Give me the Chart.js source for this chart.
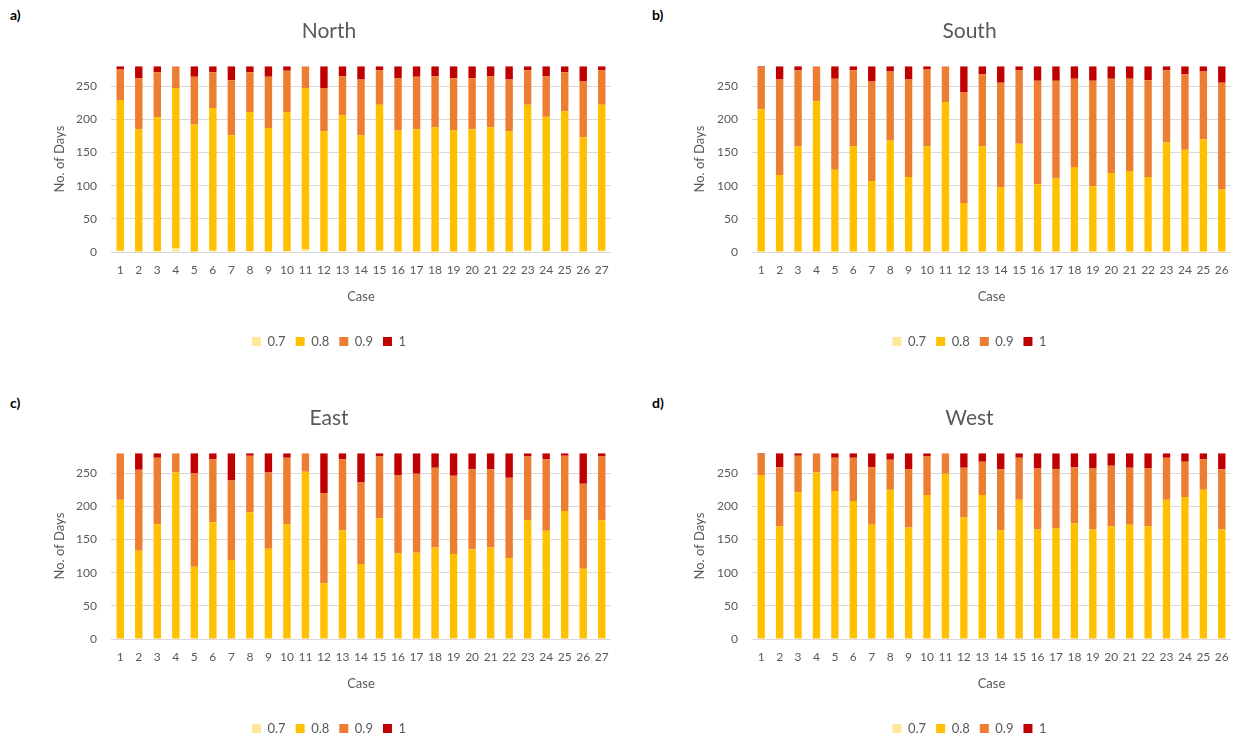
<!DOCTYPE html>
<html>
<head>
<meta charset="utf-8">
<script src="https://cdn.jsdelivr.net/npm/chart.js@4.4.0/dist/chart.umd.min.js"></script>
<style>
  html, body { margin: 0; padding: 0; background: #ffffff; overflow: hidden; }
  body { width: 1245px; height: 739px; position: relative; font-family: Lato, "Open Sans", sans-serif; }
  .panel { position: absolute; }
  .tag { position: absolute; font-weight: bold; font-size: 14px; color: #000; font-family: Lato, "Open Sans", sans-serif; }
</style>
</head>
<body>
<div class="tag" style="left:10px;top:6px;">a)</div>
<div class="tag" style="left:652px;top:6px;">b)</div>
<div class="tag" style="left:10px;top:394px;">c)</div>
<div class="tag" style="left:652px;top:394px;">d)</div>

<div class="panel" style="left:40px;top:10px;width:580px;height:348px;"><canvas id="north"></canvas></div>
<div class="panel" style="left:690px;top:10px;width:555px;height:348px;"><canvas id="south"></canvas></div>
<div class="panel" style="left:40px;top:397px;width:580px;height:348px;"><canvas id="east"></canvas></div>
<div class="panel" style="left:690px;top:397px;width:555px;height:348px;"><canvas id="west"></canvas></div>

<script>
// Case numbers along the x axis
const cases27 = ['1','2','3','4','5','6','7','8','9','10','11','12','13','14','15','16','17','18','19','20','21','22','23','24','25','26','27'];
const cases26 = ['1','2','3','4','5','6','7','8','9','10','11','12','13','14','15','16','17','18','19','20','21','22','23','24','25','26'];

// Series names (threshold levels)
const levels = ['0.7', '0.8', '0.9', '1'];
const levelColors = ['#FFE699', '#FFC000', '#ED7D31', '#C00000'];

// North: number of days per level
const north07 = [2,0,1,6,0,2,0,1,0,1,4,0,1,0,2,0,0,0,0,0,0,0,2,1,1,0,2];
const north08 = [227,185,202,241,192,215,176,210,187,210,243,182,205,176,220,183,185,188,183,185,188,182,220,203,211,173,220];
const north09 = [46,77,68,33,72,54,83,60,77,62,33,65,59,84,52,79,79,77,79,77,77,78,52,61,59,84,52];
const north1  = [5,18,9,0,16,9,21,9,16,7,0,33,15,20,6,18,16,15,18,18,15,20,6,15,9,23,6];

// South
const south07 = [0,0,0,0,0,0,0,0,0,0,0,0,0,0,0,0,0,0,0,0,0,0,0,0,0,0];
const south08 = [215,116,159,227,124,159,107,168,113,159,226,74,159,98,163,102,111,128,99,119,122,113,165,154,170,94];
const south09 = [63,144,115,53,137,115,150,104,147,116,54,167,109,157,111,156,147,133,159,142,139,146,109,114,102,161];
const south1  = [2,20,6,0,19,6,23,8,20,5,0,39,12,25,6,22,22,19,22,19,19,21,6,12,8,25];

// East
const east07 = [0,0,0,0,0,0,0,0,0,0,0,0,0,0,0,0,0,0,0,0,0,0,0,0,0,0,0];
const east08 = [210,133,173,251,109,176,119,191,136,173,252,84,164,113,182,129,130,138,128,135,138,122,179,163,193,106,179];
const east09 = [70,122,100,29,141,95,120,85,115,100,28,136,107,123,93,118,119,120,118,121,118,121,96,108,83,128,96];
const east1  = [0,25,7,0,30,9,41,4,29,7,0,60,9,44,5,33,31,22,34,24,24,37,5,9,4,46,5];

// West
const west07 = [0,0,0,0,0,0,0,0,0,0,0,0,0,0,0,0,0,0,0,0,0,0,0,0,0,0];
const west08 = [247,170,221,251,223,208,172,225,168,217,249,183,217,164,210,165,167,174,165,170,172,170,210,214,225,165];
const west09 = [31,89,55,29,50,65,87,45,88,58,31,75,50,92,63,92,89,85,92,91,86,87,63,53,46,91];
const west1  = [2,21,4,0,7,7,21,10,24,5,0,22,13,24,7,23,24,21,23,19,22,23,7,13,9,24];

// Shared axis settings
const yMax = 280;
const yStep = 50;

const textColor = '#595959';
const gridColor = '#D9D9D9';
const fontFamily = 'Lato, "Open Sans", sans-serif';

function makeChart(id, title, labels, series, layout) {
  const datasets = series.map((vals, i) => ({
    label: levels[i],
    data: vals,
    backgroundColor: levelColors[i],
    borderWidth: 0,
    categoryPercentage: 1.0,
    barPercentage: 0.4
  }));
  return new Chart(document.getElementById(id), {
    type: 'bar',
    data: { labels: labels, datasets: datasets },
    options: {
      responsive: true,
      maintainAspectRatio: false,
      animation: false,
      layout: { padding: { left: layout.leftPad, right: layout.rightPad, top: 0, bottom: 0 } },
      plugins: {
        title: {
          display: true,
          text: title,
          color: textColor,
          font: { family: fontFamily, size: 21, weight: 'normal' },
          padding: { top: 9, bottom: 22 }
        },
        legend: {
          position: 'bottom',
          labels: {
            color: textColor,
            font: { family: fontFamily, size: 13 },
            boxWidth: 9,
            boxHeight: 9,
            padding: 10
          }
        },
        tooltip: { enabled: false }
      },
      scales: {
        x: {
          stacked: true,
          grid: { display: false, drawTicks: false },
          border: { display: false },
          afterFit: (scale) => { scale.height = 73; },
          ticks: { color: textColor, font: { family: fontFamily, size: 12 }, padding: 11, autoSkip: false, maxRotation: 0 },
          title: { display: true, text: 'Case', color: textColor, font: { family: fontFamily, size: 13 }, padding: { top: 0, bottom: 20 } }
        },
        y: {
          stacked: true,
          min: 0,
          max: yMax,
          grid: { color: gridColor, lineWidth: 1, drawTicks: false },
          border: { display: false },
          afterFit: (scale) => { scale.width = layout.yWidth; },
          afterBuildTicks: (scale) => { scale.ticks = scale.ticks.filter(t => t.value % yStep === 0); },
          ticks: { stepSize: yStep, color: textColor, font: { family: fontFamily, size: 12 }, padding: 14 },
          title: { display: true, text: 'No. of Days', color: textColor, font: { family: fontFamily, size: 13 }, padding: { top: layout.titlePad, bottom: 0 } }
        }
      }
    }
  });
}

// Left column: plot spans x 111..611; right column: 752..1231
const leftLayout = { leftPad: 7, yWidth: 64, titlePad: 5, rightPad: 9 };
const rightLayout = { leftPad: 18, yWidth: 44, titlePad: -16, rightPad: 14 };

makeChart('north', 'North', cases27, [north07, north08, north09, north1], leftLayout);
makeChart('south', 'South', cases26, [south07, south08, south09, south1], rightLayout);
makeChart('east',  'East',  cases27, [east07, east08, east09, east1], leftLayout);
makeChart('west',  'West',  cases26, [west07, west08, west09, west1], rightLayout);
</script>
</body>
</html>
